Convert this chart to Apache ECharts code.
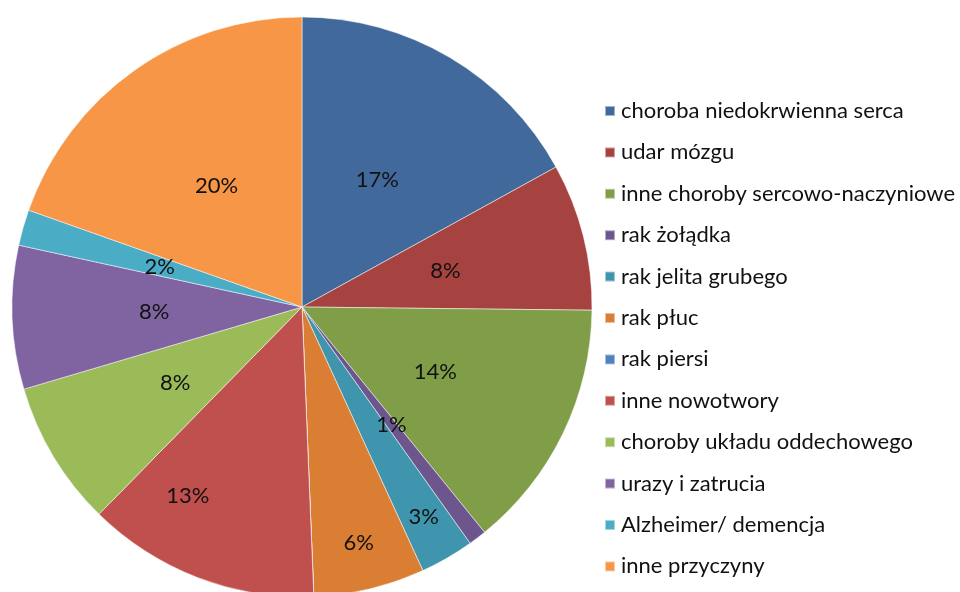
<!DOCTYPE html>
<html>
<head>
<meta charset="utf-8">
<script src="https://cdn.jsdelivr.net/npm/echarts@6/dist/echarts.min.js"></script>
<style>
html,body{margin:0;padding:0;background:#fff;}
#chart{width:960px;height:592px;}
</style>
</head>
<body>
<div id="chart"></div>
<script>
var categories = [
  'choroba niedokrwienna serca',
  'udar mózgu',
  'inne choroby sercowo-naczyniowe',
  'rak żołądka',
  'rak jelita grubego',
  'rak płuc',
  'rak piersi',
  'inne nowotwory',
  'choroby układu oddechowego',
  'urazy i zatrucia',
  'Alzheimer/ demencja',
  'inne przyczyny'
];
var values = [17.0, 8.2, 14.0, 1.0, 3.0, 6.2, 0, 13.0, 8.1, 8.0, 2.0, 19.6];
var colors = ['#41699B', '#A6423F', '#809E48', '#6D568E', '#3F95AD', '#DA7E33',
              '#4F81BD', '#C0504D', '#9BBB59', '#8064A2', '#4BACC6', '#F79646'];
// slices whose labels sit further out (moved manually in the original)
var outerLabel = ['rak jelita grubego', 'rak płuc', 'inne nowotwory'];

var fmt = function (p) { return p.value > 0 ? Math.round(p.percent) + '%' : ''; };
var labelFont = { fontFamily: 'Lato', fontSize: 22, color: '#111' };

var mainData = categories.map(function (c, i) {
  var outer = outerLabel.indexOf(c) >= 0;
  return { name: c, value: values[i], itemStyle: { color: colors[i] },
           label: { show: !outer } };
});
var overlayData = categories.map(function (c, i) {
  var outer = outerLabel.indexOf(c) >= 0;
  var lbl = { show: outer };
  if (c === 'inne nowotwory') { lbl.offset = [-27, -38]; }
  return { name: c, value: values[i], itemStyle: { color: 'rgba(0,0,0,0)' },
           label: lbl };
});

var chart = echarts.init(document.getElementById('chart'), null, { renderer: 'canvas' });
chart.setOption({
  animation: false,
  backgroundColor: '#fff',
  legend: {
    orient: 'vertical',
    left: 604,
    top: 100,
    bottom: 0,
    padding: 0,
    itemWidth: 10,
    itemHeight: 10,
    itemGap: 19.4,
    icon: 'rect',
    data: categories,
    textStyle: { fontFamily: 'Lato', fontSize: 22, lineHeight: 22, color: '#111', padding: [0, 0, 0, 1] }
  },
  series: [
    {
      type: 'pie',
      center: [302, 307],
      radius: [0, 290],
      startAngle: 90,
      clockwise: true,
      avoidLabelOverlap: false,
      itemStyle: { borderColor: 'rgba(255,255,255,0.5)', borderWidth: 1 },
      label: Object.assign({ position: 'inside', formatter: fmt }, labelFont),
      labelLine: { show: false },
      emphasis: { disabled: true },
      data: mainData
    },
    {
      type: 'pie',
      center: [302, 307],
      radius: [190, 290],
      startAngle: 90,
      clockwise: true,
      silent: true,
      avoidLabelOverlap: false,
      label: Object.assign({ position: 'inside', formatter: fmt }, labelFont),
      labelLine: { show: false },
      emphasis: { disabled: true },
      data: overlayData
    }
  ]
});
</script>
</body>
</html>
